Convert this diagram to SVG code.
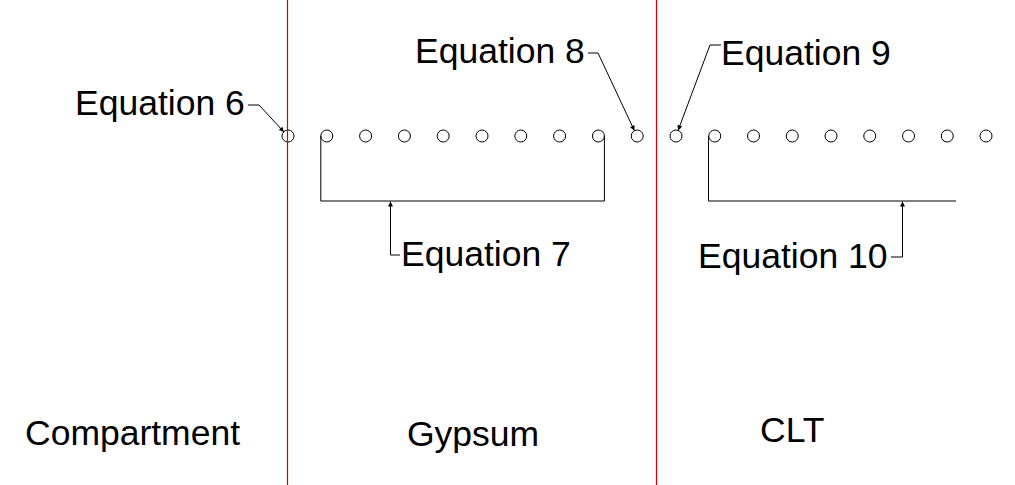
<svg xmlns="http://www.w3.org/2000/svg" width="1015" height="485" viewBox="0 0 1015 485">
<style>
.t{font-family:"Liberation Sans",Arial,sans-serif;font-size:35.5px;fill:#000}
.c{fill:none;stroke:#000;stroke-width:1}
.l{fill:none;stroke:#000;stroke-width:1}
.r{stroke:#d00000;stroke-width:1.2}
</style>
<defs>
<marker id="ah" viewBox="0 0 10 10" refX="10" refY="5" markerWidth="10" markerHeight="5" markerUnits="userSpaceOnUse" orient="auto">
<path d="M0,0 L10,5 L0,10 z" fill="#000"/>
</marker>
</defs>
<rect width="1015" height="485" fill="#fff"/>
<g id="connectors">
<polyline class="l" points="248,105 259,105 284,132" marker-end="url(#ah)"/>
<polyline class="l" points="588,53 598,53 634.4,130.6" marker-end="url(#ah)"/>
<polyline class="l" points="721,45 710,45 678.1,130.4" marker-end="url(#ah)"/>
<polyline class="l" points="320.8,136 320.8,201 604.4,201 604.4,136"/>
<polyline class="l" points="400,255 390.5,255 390.5,201.5" marker-end="url(#ah)"/>
<polyline class="l" points="708.5,136 708.5,201 956,201"/>
<polyline class="l" points="891,257 902.5,257 902.5,201.5" marker-end="url(#ah)"/>
</g>
<g id="nodes-gypsum">
<circle class="c" cx="288" cy="136" r="6"/>
<circle class="c" cx="326.8" cy="136" r="6"/>
<circle class="c" cx="365.6" cy="136" r="6"/>
<circle class="c" cx="404.4" cy="136" r="6"/>
<circle class="c" cx="443.2" cy="136" r="6"/>
<circle class="c" cx="482" cy="136" r="6"/>
<circle class="c" cx="520.8" cy="136" r="6"/>
<circle class="c" cx="559.6" cy="136" r="6"/>
<circle class="c" cx="598.4" cy="136" r="6"/>
<circle class="c" cx="637.2" cy="136" r="6"/>
</g>
<g id="nodes-clt">
<circle class="c" cx="676" cy="136" r="6"/>
<circle class="c" cx="714.75" cy="136" r="6"/>
<circle class="c" cx="753.5" cy="136" r="6"/>
<circle class="c" cx="792.25" cy="136" r="6"/>
<circle class="c" cx="831" cy="136" r="6"/>
<circle class="c" cx="869.75" cy="136" r="6"/>
<circle class="c" cx="908.5" cy="136" r="6"/>
<circle class="c" cx="947.25" cy="136" r="6"/>
<circle class="c" cx="986" cy="136" r="6"/>
</g>
<g id="boundaries">
<line class="r" x1="287.5" y1="0" x2="287.5" y2="485"/>
<line class="r" x1="656.5" y1="0" x2="656.5" y2="485"/>
</g>
<g id="eq6"><text class="t" x="75" y="115">Equation 6</text></g>
<g id="eq7"><text class="t" x="401" y="266">Equation 7</text></g>
<g id="eq8"><text class="t" x="415" y="63">Equation 8</text></g>
<g id="eq9"><text class="t" x="721" y="65">Equation 9</text></g>
<g id="eq10"><text class="t" x="698" y="268">Equation 10</text></g>
<g id="compartment"><text class="t" x="25" y="445">Compartment</text></g>
<g id="gypsum"><text class="t" x="407" y="446">Gypsum</text></g>
<g id="clt"><text class="t" x="760" y="442">CLT</text></g>
</svg>
